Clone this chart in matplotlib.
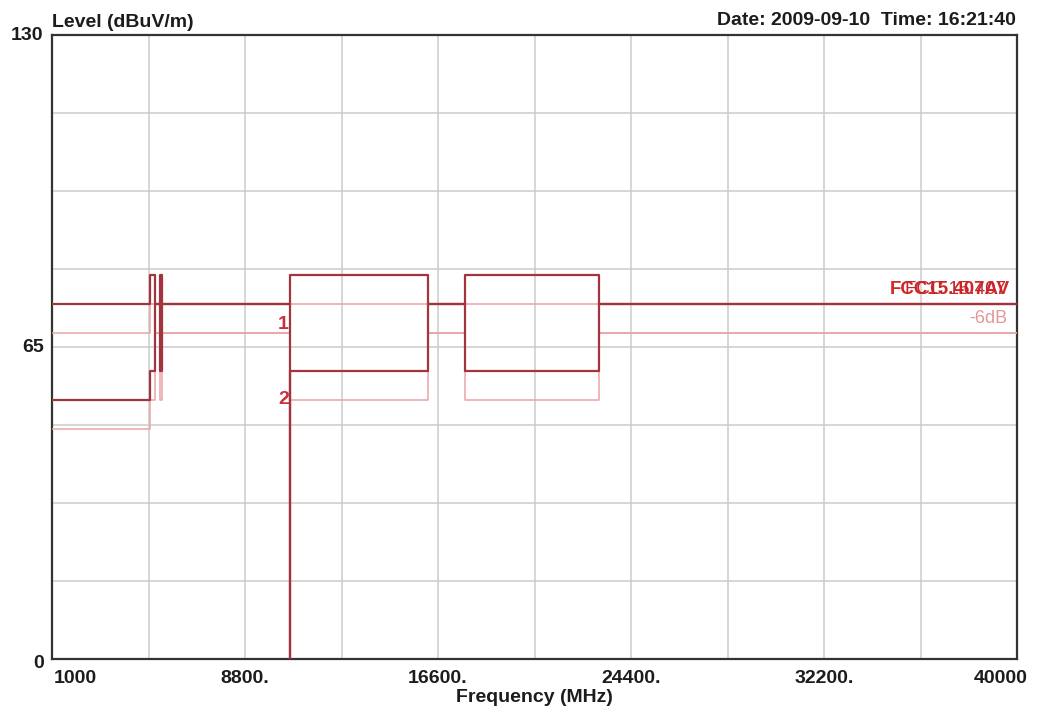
import matplotlib
matplotlib.use("Agg")
import matplotlib.pyplot as plt
import numpy as np

# ---------------- data ----------------
# Limit 1 (peak) trace, dark
lim1_freq = [1000, 4960, 4960, 5150, 5150, 5350, 5350, 5460, 5460, 10600, 10600,
             16200, 16200, 17700, 17700, 23120, 23120, 40000]
lim1_level = [74, 74, 80, 80, 74, 74, 80, 80, 74, 74, 80,
              80, 74, 74, 80, 80, 74, 74]
# Limit 2 (average) trace, dark
lim2_freq = [1000, 4960, 4960, 5150, 5150, 5350, 5350, 5460, 5460, 10600, 10600, 10600,
             16200, 16200, 17700, 17700, 23120, 23120, 40000]
lim2_level = [54, 54, 60, 60, 74, 74, 60, 60, 74, 74, 0, 60,
              60, 74, 74, 60, 60, 74, 74]
# Limit 1 margin (-6 dB) trace, light
mar1_freq = [1000, 4960, 4960, 5150, 5150, 5350, 5350, 5460, 5460, 10600, 10600,
             16200, 16200, 17700, 17700, 23120, 23120, 40000]
mar1_level = [68, 68, 74, 74, 68, 68, 74, 74, 68, 68, 74,
              74, 68, 68, 74, 74, 68, 68]
# Limit 2 margin (-6 dB) trace, light
mar2_freq = [1000, 4960, 4960, 5150, 5150, 5350, 5350, 5460, 5460, 10600, 10600,
             16200, 16200, 17700, 17700, 23120, 23120, 40000]
mar2_level = [48, 48, 54, 54, 68, 68, 54, 54, 68, 68, 54,
              54, 68, 68, 54, 54, 68, 68]

x_grid = [1000, 4900, 8800, 12700, 16600, 20500, 24400, 28300, 32200, 36100, 40000]
y_grid = [0, 16.25, 32.5, 48.75, 65, 81.25, 97.5, 113.75, 130]
x_tick_values = [1000, 8800, 16600, 24400, 32200, 40000]
x_tick_labels = ["1000", "8800.", "16600.", "24400.", "32200.", "40000"]
y_tick_values = [130, 65, 0]
y_tick_labels = ["130", "65", "0"]

marker_labels = ["1", "2"]
marker_freq = [10600, 10600]
marker_level = [69.6, 54]

# ---------------- style ----------------
W, H = 1038, 716
plt.rcParams['font.family'] = ['Liberation Sans', 'DejaVu Sans']
fig = plt.figure(figsize=(W / 100, H / 100), dpi=100)
ax = fig.add_axes([52 / W, 1 - 659 / H, (1017 - 52) / W, (659 - 35) / H])

dark = '#a3343e'
light = '#eba3a6'
grid_c = '#cbcbcb'

ax.set_xlim(1000, 40000)
ax.set_ylim(0, 130)
ax.set_xticks(x_grid)
ax.set_yticks(y_grid)
ax.set_xticklabels([])
ax.set_yticklabels([])
ax.tick_params(length=0)
ax.grid(True, color=grid_c, linewidth=1.1)
for s in ax.spines.values():
    s.set_color('#333333')
    s.set_linewidth(1.6)

ax.plot(mar1_freq, mar1_level, color=light, lw=1.1, zorder=3)
ax.plot(mar2_freq, mar2_level, color=light, lw=1.1, zorder=3)
ax.plot(lim2_freq, lim2_level, color=dark, lw=1.6, zorder=4)
ax.plot(lim1_freq, lim1_level, color=dark, lw=1.6, zorder=4)

for lbl, f, lv in zip(marker_labels, marker_freq, marker_level):
    ax.annotate(lbl, (f, lv), xytext=(-0.5, 0), textcoords='offset points',
                ha='right', va='center', color='#c8303a', fontsize=14,
                fontweight='bold', zorder=5)

# right side labels (overlapping in the reference)
ax.annotate("FCC15.407AV", (1, 76.9), xycoords=('axes fraction', 'data'),
            xytext=(-5, 0), textcoords='offset points', ha='right', va='center',
            color='#d42424', fontsize=13.5, fontweight='bold', zorder=5)
ax.annotate("FCC 15.407", (1, 76.9), xycoords=('axes fraction', 'data'),
            xytext=(-8, 0), textcoords='offset points', ha='right', va='center',
            color='#c02830', fontsize=13.5, zorder=5)
ax.annotate("-6dB", (1, 71), xycoords=('axes fraction', 'data'),
            xytext=(-7, 0), textcoords='offset points', ha='right', va='center',
            color='#e09898', fontsize=13, zorder=5)

# x tick labels
x_ha = {"1000": 'left', "40000": 'center'}
x_dx = {"1000": 1, "40000": -12}
for v, lbl in zip(x_tick_values, x_tick_labels):
    ax.annotate(lbl, (v, 0), xycoords=('data', 'axes fraction'),
                xytext=(x_dx.get(lbl, 0), -17.3), textcoords='offset points',
                ha=x_ha.get(lbl, 'center'), va='baseline',
                fontsize=14, fontweight='bold', color='#1c1c1c')

# y tick labels
y_dy = {"130": -3.6, "65": -3.6, "0": -6.5}
for v, lbl in zip(y_tick_values, y_tick_labels):
    ax.annotate(lbl, (0, v), xycoords=('axes fraction', 'data'),
                xytext=(-6, y_dy[lbl]), textcoords='offset points',
                ha='right', va='baseline',
                fontsize=14, fontweight='bold', color='#1c1c1c')

fig.text(52 / W, 1 - 27 / H, "Level (dBuV/m)", ha='left', va='baseline',
         fontsize=14, fontweight='bold', color='#1c1c1c')
fig.text(1016 / W, 1 - 25 / H, "Date: 2009-09-10  Time: 16:21:40", ha='right',
         va='baseline', fontsize=14, fontweight='bold', color='#1c1c1c')
fig.text(534 / W, 1 - 702 / H, "Frequency (MHz)", ha='center', va='baseline',
         fontsize=14, fontweight='bold', color='#1c1c1c')

fig.savefig("out.png", dpi=100)
